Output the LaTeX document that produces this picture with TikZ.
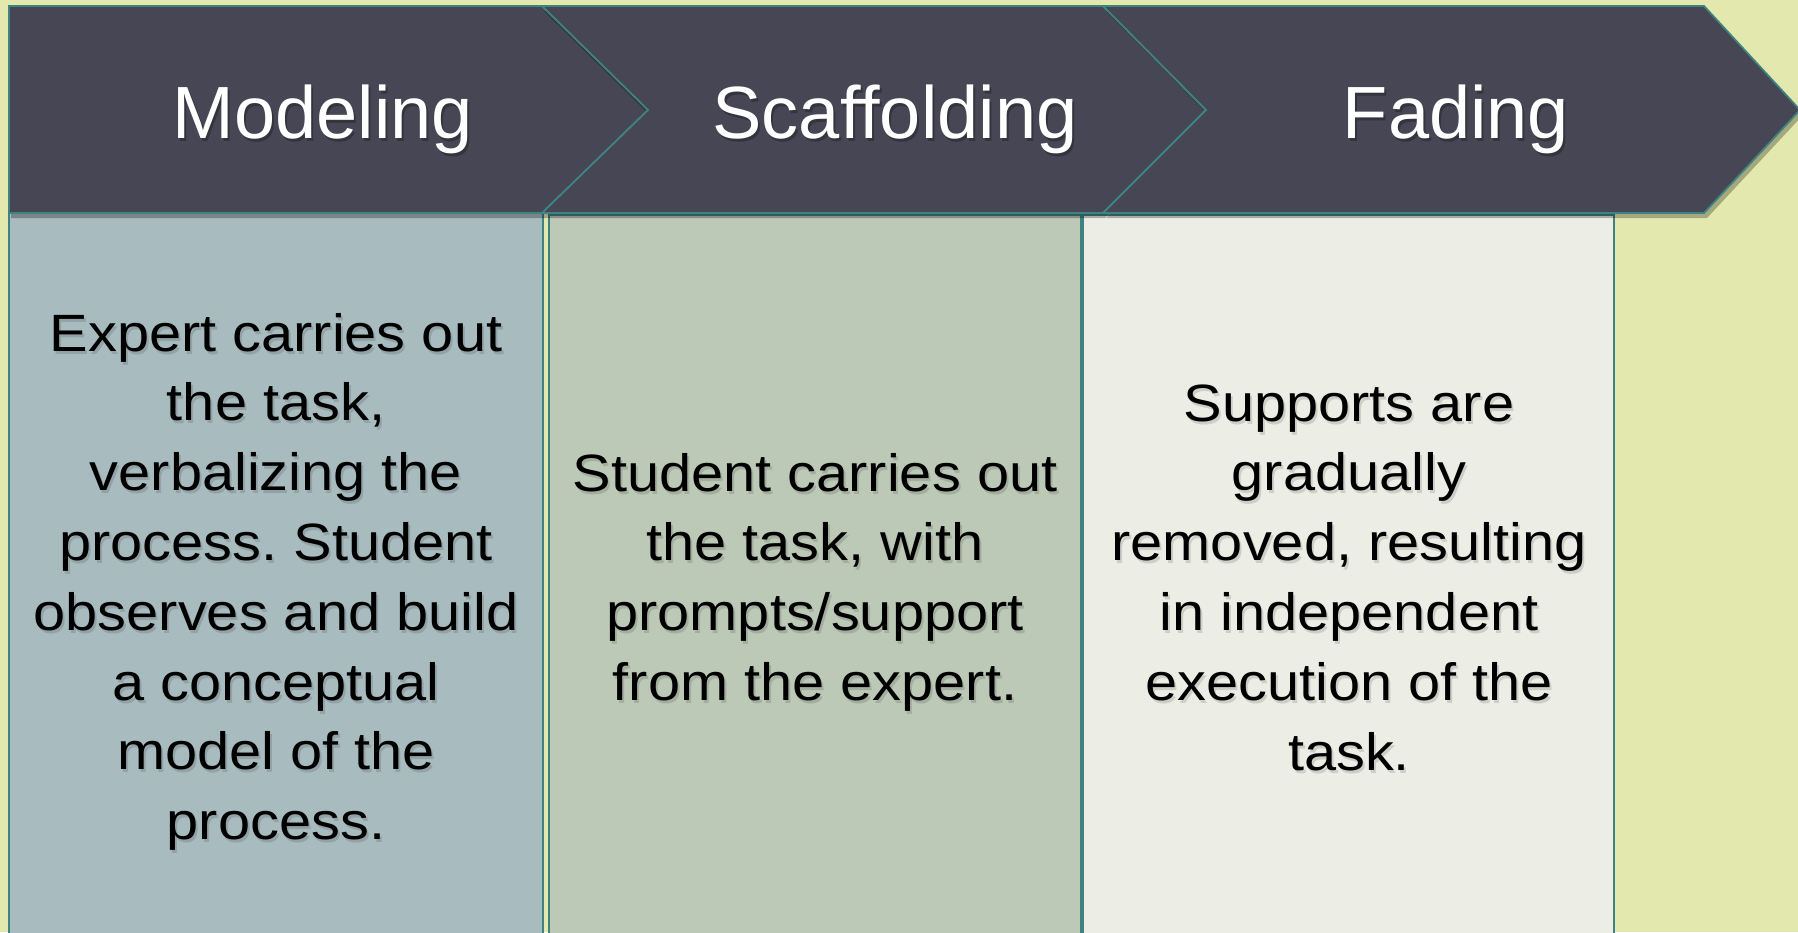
\documentclass[tikz,border=0pt]{standalone}
\usepackage{fontspec}
\setmainfont{Liberation Sans}
\newfontfamily\bodyfont{Liberation Sans}[FakeStretch=1.1]
\newfontfamily\headfont{Liberation Sans}
\frenchspacing
\definecolor{bgyellow}{HTML}{E3E9AE}
\definecolor{headfill}{HTML}{464654}
\definecolor{edgeteal}{HTML}{3E8282}
\definecolor{fillone}{HTML}{A8BBBF}
\definecolor{filltwo}{HTML}{BCC9B7}
\definecolor{fillthree}{HTML}{ECEEE5}
\tikzset{
  chevron/.style={fill=headfill, draw=edgeteal, line width=1.8bp, line join=miter},
  chevshadow/.style={fill=black, fill opacity=0.28, draw=none},
  colbox/.style={draw=edgeteal, line width=1.5bp},
  headtext/.style={anchor=base, inner sep=0pt, text=white, font=\headfont\fontsize{74bp}{80bp}\selectfont},
  headshadow/.style={headtext, text=black, text opacity=0.25},
  bodytext/.style={anchor=base, inner sep=0pt, text=black, font=\frenchspacing\bodyfont\fontsize{52.5bp}{69.8bp}\selectfont},
  bodyshadow/.style={bodytext, text=black, text opacity=0.13},
}
\begin{document}
\begin{tikzpicture}[x=1bp,y=-1bp]
\useasboundingbox (0,0) rectangle (1798,932);
\clip (0,0) rectangle (1798,932);
\fill[bgyellow] (0,0) rectangle (1798,932);
% lower columns
\path[colbox, fill=fillone] (9,213) rectangle (543,945);
\path[colbox, fill=filltwo] (549,215) rectangle (1081,945);
\path[colbox, fill=fillthree] (1083,215) rectangle (1614,945);
% header chevrons with shadows
\fill[chevshadow, shift={(2,5)}] (9,6) -- (542,6) -- (648,110) -- (542,213) -- (9,213) -- cycle;
\path[chevron] (9,6) -- (542,6) -- (648,110) -- (542,213) -- (9,213) -- cycle;
\fill[chevshadow, shift={(2,5)}] (542,6) -- (1103,6) -- (1206,110) -- (1103,213) -- (542,213) -- (648,110) -- cycle;
\path[chevron] (542,6) -- (1103,6) -- (1206,110) -- (1103,213) -- (542,213) -- (648,110) -- cycle;
\fill[chevshadow, shift={(3,5)}] (1103,6) -- (1704,6) -- (1800,110) -- (1704,213) -- (1103,213) -- (1206,110) -- cycle;
\path[chevron] (1103,6) -- (1704,6) -- (1800,110) -- (1704,213) -- (1103,213) -- (1206,110) -- cycle;
% header labels
\node[headshadow] (h1s) at (325,141) {Modeling};
\node[headtext] (h1) at (323,138) {Modeling};
\node[headshadow] (h2s) at (897,141) {Scaffolding};
\node[headtext] (h2) at (895,138) {Scaffolding};
\node[headshadow] (h3s) at (1458,141) {Fading};
\node[headtext] (h3) at (1456,138) {Fading};
% body texts
\node[bodyshadow] (b1s) at (278,354) {\begin{tabular}[t]{@{}c@{}}Expert carries out\\the task,\\verbalizing the\\process. Student\\observes and build\\a conceptual\\model of the\\process.\end{tabular}};
\node[bodytext] (b1) at (276,351) {\begin{tabular}[t]{@{}c@{}}Expert carries out\\the task,\\verbalizing the\\process. Student\\observes and build\\a conceptual\\model of the\\process.\end{tabular}};
\node[bodyshadow] (b2s) at (817,494) {\begin{tabular}[t]{@{}c@{}}Student carries out\\the task, with\\prompts/support\\from the expert.\end{tabular}};
\node[bodytext] (b2) at (815,491) {\begin{tabular}[t]{@{}c@{}}Student carries out\\the task, with\\prompts/support\\from the expert.\end{tabular}};
\node[bodyshadow] (b3s) at (1351,424) {\begin{tabular}[t]{@{}c@{}}Supports are\\gradually\\removed, resulting\\in independent\\execution of the\\task.\end{tabular}};
\node[bodytext] (b3) at (1349,421) {\begin{tabular}[t]{@{}c@{}}Supports are\\gradually\\removed, resulting\\in independent\\execution of the\\task.\end{tabular}};
\end{tikzpicture}
\end{document}
